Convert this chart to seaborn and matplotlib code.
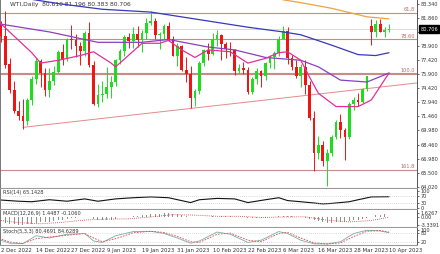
import numpy as np
import pandas as pd
import matplotlib
matplotlib.use("Agg")
import matplotlib.pyplot as plt
import seaborn as sns

sns.set_style("white")
plt.rcParams["font.family"] = ["DejaVu Sans"]

# ---------------- data ----------------
opens = [80.6, 81.2, 80.0, 77.0, 74.3, 72.0, 71.5, 71.0, 73.2, 75.4, 77.3, 76.1, 74.3, 75.2, 76.2, 78.3, 77.5, 79.6, 79.5, 78.9, 78.4,
         80.3, 76.9, 72.8, 73.7, 73.8, 74.6, 75.1, 77.4, 78.4, 79.9, 79.4, 80.2, 79.5, 80.3, 81.3, 81.6, 80.1, 80.2, 81.0, 79.7, 77.9,
         78.9, 76.4, 75.9, 73.4, 74.1, 77.1, 78.5, 78.1, 79.7, 80.1, 79.1, 78.6, 78.5, 76.3, 76.6, 76.4, 74.0, 75.4, 76.3, 75.7,
         77.1, 77.7, 78.2, 79.7, 80.5, 77.6, 76.7, 75.7, 76.7, 74.8, 71.3, 67.6, 68.4, 66.7, 67.6, 69.3, 70.9, 70.0, 69.3, 72.8, 73.2, 73.0, 74.4,
         81.0, 80.4, 81.2, 80.4, 80.61]
highs = [83.3, 81.6, 82.6, 77.6, 75.2, 73.1, 73.3, 73.4, 75.7, 77.6, 77.5, 76.6, 76.6, 76.8, 78.5, 79.1, 79.8, 81.1, 80.2, 79.3, 80.5,
         81.5, 77.3, 74.9, 75.2, 76.7, 75.7, 77.5, 78.6, 80.1, 80.3, 80.9, 81.0, 80.6, 81.9, 82.6, 81.9, 80.4, 81.2, 81.4, 80.0, 79.2,
         79.0, 77.7, 76.8, 74.4, 77.3, 78.6, 79.2, 80.3, 80.6, 80.2, 79.3, 79.3, 78.6, 77.0, 77.2, 76.7, 75.6, 76.6, 76.4, 77.2,
         78.0, 78.4, 80.0, 81.0, 80.9, 78.0, 77.4, 77.0, 77.4, 75.2, 72.0, 69.4, 68.9, 68.0, 69.5, 71.1, 71.7, 70.2, 73.0, 73.5, 73.9, 74.5, 75.7,
         81.8, 81.7, 81.8, 80.9, 81.196]
lows = [80.3, 79.3, 76.6, 73.9, 71.8, 71.1, 70.1, 70.5, 72.7, 74.9, 74.6, 73.6, 73.5, 74.8, 76.1, 76.9, 77.3, 78.6, 77.7, 76.9, 77.8,
        76.7, 72.7, 72.5, 73.0, 73.4, 73.4, 74.7, 77.0, 77.8, 78.7, 78.7, 78.8, 78.3, 79.6, 81.1, 79.7, 78.6, 79.7, 79.4, 77.8, 76.8,
        76.3, 75.1, 72.3, 72.6, 73.8, 76.8, 77.4, 78.0, 78.9, 77.4, 77.6, 77.8, 75.8, 76.0, 75.9, 73.8, 73.8, 74.9, 74.6, 75.3,
        76.6, 76.5, 77.8, 79.6, 77.0, 76.4, 75.5, 74.6, 73.8, 71.1, 65.7, 66.9, 66.2, 64.1, 67.3, 69.1, 69.2, 66.8, 69.1, 72.1, 72.6, 72.9, 74.2,
        79.0, 79.9, 80.4, 79.9, 80.383]
closes = [81.2, 80.0, 76.9, 74.3, 72.0, 71.5, 71.0, 73.2, 75.4, 77.3, 76.1, 74.3, 75.2, 76.2, 78.3, 77.5, 79.6, 79.5, 78.9, 78.4, 80.3,
          76.9, 72.8, 73.7, 73.8, 74.6, 75.1, 77.4, 78.4, 79.9, 79.4, 80.2, 79.5, 80.3, 81.3, 81.6, 80.1, 80.2, 81.0, 79.7, 77.9, 78.9,
          76.4, 75.9, 73.4, 74.1, 77.1, 78.5, 78.1, 79.7, 80.1, 79.1, 78.6, 78.5, 76.3, 76.6, 76.4, 74.0, 75.4, 76.3, 75.7, 77.1,
          77.7, 78.2, 79.7, 80.5, 77.6, 76.7, 75.7, 76.7, 74.8, 71.3, 67.6, 68.4, 66.7, 67.6, 69.3, 70.9, 70.0, 69.3, 72.8, 73.2, 73.0, 74.4, 75.7,
          80.4, 81.2, 80.4, 80.6, 80.706]

# moving averages (bar index, value)
ma_orange_idx = [59, 65, 69, 76, 84, 89]
ma_orange_val = [84.5, 83.8, 83.5, 82.9, 82.0, 81.78]
ma_blue_idx = [6, 14, 24, 35, 46, 57, 65, 69, 76, 82, 86, 89]
ma_blue_val = [84.0, 83.4, 82.8, 82.5, 81.7, 80.9, 80.4, 80.1, 79.0, 78.0, 77.9, 78.2]
ma_purple_idx = [0, 12, 23, 33, 39, 48, 54, 61, 69, 73, 78, 84, 89]
ma_purple_val = [81.3, 80.4, 79.3, 79.3, 79.6, 78.8, 78.5, 77.7, 77.4, 76.7, 75.3, 75.1, 76.05]
ma_pink_idx = [0, 8, 10, 14, 19, 22, 26, 27, 33, 37, 39, 42, 45, 48, 53, 57, 61, 64, 66, 69, 71, 73, 77, 82, 85, 89]
ma_pink_val = [81.7, 78.2, 77.1, 77.4, 77.9, 78.3, 77.1, 76.7, 79.2, 79.2, 79.5, 78.5, 77.7, 78.5, 78.3, 77.1, 77.6, 78.2, 78.3, 77.4, 75.6, 73.9, 72.5, 72.5, 73.2, 76.05]

trend_idx = [6, 95.3]
trend_val = [70.3, 75.0]

fib_levels = [82.45, 79.65, 76.05, 75.9, 65.8]
fib_names = ["61.8", "78.60", "100.0", "", "161.8"]

price_ticks = [83.34, 81.86, 80.38, 78.90, 77.42, 75.90, 74.42, 72.94, 71.46, 69.98, 68.46, 66.98, 65.50, 64.02]
price_labels = ["83.340", "81.860", "80.380", "78.900", "77.420", "75.900", "74.420",
                "72.940", "71.460", "69.980", "68.460", "66.980", "65.500", "64.020"]

rsi_idx = [0, 5, 8, 12, 16, 20, 23, 27, 31, 35, 39, 44, 46, 50, 54, 57, 61, 64, 66, 69, 71, 74, 76, 80, 82, 85, 89]
rsi_val = [47, 38, 35, 47, 38, 52, 38, 52, 59, 64, 59, 30, 47, 55, 52, 30, 47, 59, 42, 35, 30, 22, 25, 35, 47, 64, 65.14]

macd_main = [-2.0, -2.2, -2.6, -2.9, -3.2, -3.3, -3.34, -3.2, -2.9, -2.5, -2.3, -2.2, -2.0, -1.8, -1.4, -1.2, -0.8, -0.5, -0.3, -0.2, 0.1,
             -0.2, -0.8, -1.1, -1.3, -1.3, -1.2, -0.9, -0.6, -0.2, 0.1, 0.4, 0.5, 0.7, 1.0, 1.3, 1.4, 1.4, 1.6, 1.55, 1.3, 1.2,
             0.9, 0.6, 0.1, -0.2, -0.2, 0.0, 0.1, 0.3, 0.5, 0.5, 0.5, 0.4, 0.2, 0.0, -0.1, -0.4, -0.5, -0.5, -0.5, -0.4,
             -0.2, 0.0, 0.3, 0.6, 0.5, 0.3, 0.1, 0.0, -0.3, -0.8, -1.5, -1.9, -2.3, -2.5, -2.5, -2.3, -2.2, -2.1, -1.7, -1.4, -1.2, -0.9, -0.6,
             0.1, 0.7, 1.0, 1.3, 1.45]
macd_sig_idx = [0, 5, 10, 15, 20, 25, 30, 35, 40, 45, 50, 55, 60, 65, 70, 75, 80, 85, 89]
macd_sig_val = [-1.3, -2.4, -2.9, -2.3, -1.3, -0.9, -0.8, 0.0, 1.0, 0.8, 0.3, 0.3, -0.2, 0.0, 0.1, -1.4, -2.1, -1.5, -0.106]

stoch_idx = [0, 3, 6, 9, 12, 16, 20, 22, 24, 27, 31, 35, 38, 41, 44, 46, 50, 53, 57, 60, 64, 66, 69, 72, 75, 78, 81, 84, 87, 89]
stoch_main = [40, 10, 8, 60, 45, 70, 75, 25, 15, 60, 88, 90, 75, 45, 10, 25, 85, 70, 15, 30, 88, 75, 30, 6, 5, 20, 75, 97, 92, 80.47]
stoch_sig = [50, 18, 8, 40, 52, 63, 75, 45, 20, 40, 80, 90, 82, 55, 20, 15, 70, 78, 30, 20, 75, 82, 45, 12, 5, 12, 55, 90, 95, 84.63]

date_idx = [1, 9, 17, 25, 33, 41, 49, 57, 65, 73, 81, 89]
date_labels = ["2 Dec 2022", "14 Dec 2022", "27 Dec 2022", "9 Jan 2023", "19 Jan 2023", "31 Jan 2023",
               "10 Feb 2023", "22 Feb 2023", "6 Mar 2023", "16 Mar 2023", "28 Mar 2023", "10 Apr 2023"]

# ---------------- figure ----------------
W, H = 440, 254
fig = plt.figure(figsize=(W / 100, H / 100), dpi=100)
fig.patch.set_facecolor("white")


def px_axes(x0, x1, y0, y1):
    return fig.add_axes([x0 / W, 1 - y1 / H, (x1 - x0) / W, (y1 - y0) / H])


PLOT_R = 417
ax = px_axes(0, PLOT_R, 0, 188)
ax_rsi = px_axes(0, PLOT_R, 189, 209)
ax_macd = px_axes(0, PLOT_R, 210, 227)
ax_st = px_axes(0, PLOT_R, 228, 245)

XL = (0.79, 95.35)
FS = 3.6
axis_col = "#555555"
sep_col = "#999999"

df = pd.DataFrame({"i": np.arange(len(closes)), "open": opens, "high": highs, "low": lows, "close": closes})
up = df["close"] >= df["open"]
green, red = "#1fdc1f", "#ee1515"

# wicks and bodies
ax.vlines(df["i"], df["low"], df["high"], colors=np.where(up, green, red), linewidth=0.7, zorder=3)
body_lo = np.minimum(df["open"], df["close"])
body_h = np.maximum(np.abs(df["close"] - df["open"]), 0.08)
ax.bar(df["i"], body_h, bottom=body_lo, width=0.62, color=np.where(up, green, red), linewidth=0, zorder=4)

# horizontal fib lines
fib_col = "#c98a8a"
for lv, nm in zip(fib_levels, fib_names):
    ax.axhline(lv, color=fib_col, linewidth=0.8, zorder=1)
    if nm:
        ax.text(XL[1] - 0.5, lv + 0.05, nm, ha="right", va="bottom", fontsize=FS, color="#b46a6a")
ax.axhline(closes[-1], color="#cccccc", linewidth=0.5, zorder=1)

# trend line
sns.lineplot(x=trend_idx, y=trend_val, ax=ax, color="#e38a8a", linewidth=0.7, zorder=2)

# moving averages
sns.lineplot(x=ma_orange_idx, y=ma_orange_val, ax=ax, color="#f0a040", linewidth=0.9, zorder=5)
sns.lineplot(x=ma_blue_idx, y=ma_blue_val, ax=ax, color="#3838b8", linewidth=0.9, zorder=5)
sns.lineplot(x=ma_purple_idx, y=ma_purple_val, ax=ax, color="#8a3fc0", linewidth=0.9, zorder=5)
sns.lineplot(x=ma_pink_idx, y=ma_pink_val, ax=ax, color="#e0309a", linewidth=0.9, zorder=5)

ax.set_xlim(*XL)
ax.set_ylim(63.88, 83.78)
ax.set_yticks(price_ticks)
ax.set_yticklabels(price_labels)

# title
ax.text(0.024, 0.992, "WTI,Daily  80.610 81.196 80.383 80.706", transform=ax.transAxes,
        fontsize=4.3, color="#333333", ha="left", va="top")

# current price box
ax.annotate("80.706", xy=(1.0, closes[-1]), xycoords=("axes fraction", "data"),
            xytext=(2.5, 0), textcoords="offset points", fontsize=FS, color="white",
            ha="left", va="center", zorder=10,
            bbox=dict(boxstyle="square,pad=0.25", fc="black", ec="black"), annotation_clip=False)

# RSI
sns.lineplot(x=rsi_idx, y=rsi_val, ax=ax_rsi, color="#111111", linewidth=0.8)
for lv in (70, 30):
    ax_rsi.axhline(lv, color="#bbbbbb", linewidth=0.5, linestyle=(0, (1, 2)))
ax_rsi.set_xlim(*XL)
ax_rsi.set_ylim(-8.6, 111.4)
ax_rsi.set_yticks([100, 70, 30, 0])
ax_rsi.set_yticklabels(["100", "70", "30", "0"])
ax_rsi.text(0.008, 0.93, "RSI(14) 65.1428", transform=ax_rsi.transAxes, fontsize=FS, color="#333333",
            ha="left", va="top")

# MACD
ax_macd.bar(np.arange(len(macd_main)), macd_main, width=0.22, color="#909090", linewidth=0)
sns.lineplot(x=macd_sig_idx, y=macd_sig_val, ax=ax_macd, color="#e03030", linewidth=0.6, linestyle=(0, (1, 1.5)))
ax_macd.set_xlim(*XL)
ax_macd.set_ylim(-4.3, 3.0)
ax_macd.set_yticks([1.6267, 0.0, -3.3391])
ax_macd.set_yticklabels(["1.6267", "0.00", "-3.3391"])
ax_macd.text(0.008, 0.95, "MACD(12,26,9) 1.4487 -0.1060", transform=ax_macd.transAxes, fontsize=FS,
             color="#333333", ha="left", va="top")

# Stochastic
sns.lineplot(x=stoch_idx, y=stoch_main, ax=ax_st, color="#7aaaa4", linewidth=0.6)
sns.lineplot(x=stoch_idx, y=stoch_sig, ax=ax_st, color="#e04545", linewidth=0.6, linestyle=(0, (2, 1.5)))
for lv in (80, 20):
    ax_st.axhline(lv, color="#bbbbbb", linewidth=0.5, linestyle=(0, (1, 2)))
ax_st.set_xlim(*XL)
ax_st.set_ylim(-2, 112)
ax_st.set_yticks([100, 80, 20])
ax_st.set_yticklabels(["100", "80", "20"])
ax_st.text(0.008, 0.95, "Stoch(5,3,3) 80.4691 84.6289", transform=ax_st.transAxes, fontsize=FS,
           color="#333333", ha="left", va="top")

# date axis
ax_st.set_xticks(date_idx)
ax_st.set_xticklabels(date_labels)
for lbl in ax_st.get_xticklabels():
    lbl.set_ha("left")
ax_st.tick_params(axis="x", labelsize=FS + 0.3, length=1.5, width=0.5, pad=1, colors="#333333")

for a in (ax, ax_rsi, ax_macd, ax_st):
    a.set_xlabel("")
    a.set_ylabel("")
    a.yaxis.tick_right()
    a.tick_params(axis="y", labelsize=FS, length=1.5, width=0.5, pad=1, colors="#333333")
    if a is not ax_st:
        a.set_xticks([])
    a.set_facecolor("white")
    a.spines["top"].set_visible(False)
    a.spines["right"].set_color(axis_col)
    a.spines["right"].set_linewidth(0.7)
    a.spines["bottom"].set_visible(True)
    a.spines["bottom"].set_color(sep_col)
    a.spines["bottom"].set_linewidth(0.8)
    a.spines["left"].set_visible(True)
    a.spines["left"].set_color("#777777")
    a.spines["left"].set_linewidth(0.7)

fig.savefig("out.png", dpi=100, facecolor="white")
